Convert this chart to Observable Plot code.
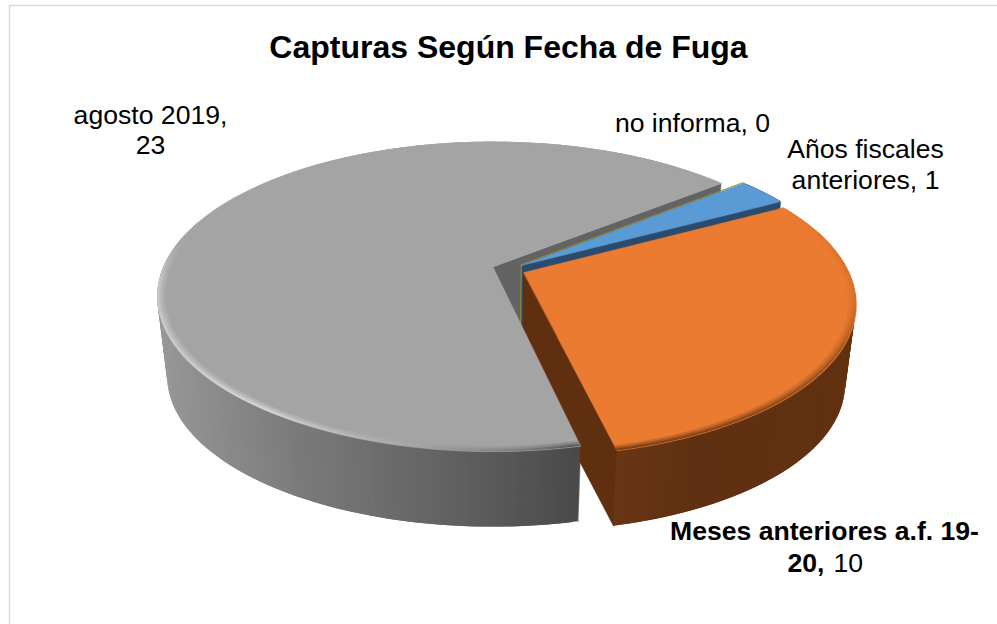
<!DOCTYPE html>
<html>
<head>
<meta charset="utf-8">
<script src="https://cdn.jsdelivr.net/npm/d3@7"></script>
<script src="https://cdn.jsdelivr.net/npm/@observablehq/plot@0.6"></script>
<style>
html,body{margin:0;padding:0;background:#fff}
svg{display:block}
</style>
</head>
<body>
<div id="chart"></div>
<script>
// ---- data ----
const categories = ["agosto 2019", "no informa", "Años fiscales anteriores", "Meses anteriores a.f. 19-20"];
const capturas = [23, 0, 1, 10];
const topColors = ["#a4a4a4", "#a08c1c", "#5b9bd5", "#ea7b30"];
const faceColors = ["#636363", "#a08c1c", "#2a4b6e", "#5f2f10"];
const radiusFactor = [1, 0.985, 0.985, 0.982];
const titleText = "Capturas Según Fecha de Fuga";

// ---- 3D pie geometry (perspective view of a tilted disc) ----
const rad = Math.PI / 180;
const x0 = 492.5, y0 = 266.5, A = 149, B = 329, K = -0.193;
const THICK = 81, SHRINK = 0.97, EXPLODE = 0.05;
const START = 77.5 * rad;

const slices = d3.pie().sort(null).startAngle(START).endAngle(START + 2 * Math.PI)(capturas)
  .map((s, i) => ({...s, i, mid: (s.startAngle + s.endAngle) / 2}));

const base = slices[0];
const cX = -EXPLODE * Math.cos(base.mid), cY = -EXPLODE * Math.sin(base.mid);

function proj(X, Y) {
  const d = 1 + K * Y;
  return [x0 + B * X / d, y0 + A * Y / d];
}
function surf(s, r, t) {
  const R = r * radiusFactor[s.i];
  return proj(cX + EXPLODE * Math.cos(s.mid) + R * Math.cos(t),
              cY + EXPLODE * Math.sin(s.mid) + R * Math.sin(t));
}
function low([x, y]) {
  return [x0 + (x - x0) * SHRINK, y0 + (y - y0) * SHRINK + THICK];
}
function arcAngles(a, b, stepDeg) {
  const n = Math.max(1, Math.ceil((b - a) / (stepDeg * rad)));
  return d3.range(n + 1).map(i => a + (b - a) * i / n);
}

const wallGray = d3.scaleLinear().domain([158, 300, 450, 580]).range(["#979797", "#7a7a7a", "#626262", "#4a4a4a"]);
const wallOrange = d3.scaleLinear().domain([617, 700, 860]).range(["#6a3614", "#5f3011", "#62310f"]);
const wallColor = (s, x) => s.i === 0 ? wallGray(x) : s.i === 3 ? wallOrange(x) : faceColors[s.i];

const deg = t => t / rad;
const rimGray = d3.scaleLinear().domain([77.5, 84, 100, 125, 150, 175, 190, 322])
  .range(["#585858", "#7a7a7a", "#a4a4a4", "#d4d4d4", "#c9c9c9", "#c4c4c4", "#a6a6a6", "#a4a4a4"]);
const rimOrange = d3.scaleLinear().domain([-28, 8, 30, 55, 77.5])
  .range(["#ea7b30", "#dc712b", "#a85a22", "#8a4a1c", "#7a3f18"]);

// side strips (outer wall), radial faces, top surfaces and bevel rings, all derived from the pie
const strips = [], faces = [], tops = [], rings = [];
for (const s of slices) {
  const a = s.startAngle, b = s.endAngle;
  tops.push({s: s.i, id: "t" + s.i, p: surf(s, 0, 0)});
  for (const t of arcAngles(a, b, 1)) tops.push({s: s.i, id: "t" + s.i, p: surf(s, 1, t)});
  for (const t of [a, b]) faces.push({s: s.i, t, end: t === b, pts: [surf(s, 0, 0), surf(s, 1, t)]});
  const as = arcAngles(a, b, 1);
  for (let j = 0; j < as.length - 1; ++j) {
    // each strip overlaps the next one, so no seams show
    const t2 = as[Math.min(j + 2, as.length - 1)];
    const p = surf(s, 1, as[j]), q = surf(s, 1, t2);
    // the far side of the drum faces away from the viewer: no wall there
    if (s.i !== 2 && Math.sin(as[j]) > -0.3) {
      const col = wallColor(s, p[0]);
      const id = `w${s.i}-${j}`;
      strips.push({id, i: s.i, col, a: p, b: low(p)}, {id, i: s.i, col, a: q, b: low(q)});
    }
    if (s.i === 2) {
      const id = `w${s.i}-${j}`;
      strips.push({id, i: s.i, col: faceColors[2], a: p, b: low(p)}, {id, i: s.i, col: faceColors[2], a: q, b: low(q)});
    }
    if (s.value > 1) {
      const d = deg(as[j]);
      const edge = s.i === 0 ? rimGray(d) : rimOrange(d > 180 ? d - 360 : d);
      const mix = d3.interpolateRgb(topColors[s.i], edge);
      [[0.978, 0.986, .3], [0.986, 0.993, .65], [0.993, 1, 1]].forEach(([r1, r2, m], n) => {
        const rid = `r${s.i}-${j}-${n}`, col2 = mix(m);
        rings.push({id: rid, i: s.i, col: col2, a: surf(s, r1, as[j]), b: surf(s, r2, as[j])},
                   {id: rid, i: s.i, col: col2, a: surf(s, r1, t2), b: surf(s, r2, t2)});
      });
    }
  }
}

const facePoly = f => {
  const [ap, rim] = f.pts;
  return [ap, rim, low(rim), low(ap)].map(p => ({id: `${f.s}-${f.t}`, col: faceColors[f.s], p}));
};
const facesFor = (i, endOnly) => faces.filter(f => f.s === i && (!endOnly || f.end)).flatMap(facePoly);
const topFor = i => tops.filter(d => d.s === i).map(d => ({...d, col: topColors[i]}));

const polyMark = rows => Plot.line(rows, {
  x: d => d.p[0], y: d => d.p[1], z: "id", fill: "col", stroke: "col", strokeWidth: 0.5, curve: "linear-closed"
});
const stripMark = rows => Plot.area(rows, {
  x1: d => d.a[0], y1: d => d.a[1], x2: d => d.b[0], y2: d => d.b[1],
  z: "id", fill: "col"
});

// ---- text ----
const font = "'Liberation Sans', Arial, sans-serif";
const labels = [
  {t: "agosto 2019,", x: 150, y: 115},
  {t: "23", x: 150, y: 145},
  {t: "no informa, 0", x: 692, y: 123},
  {t: "Años fiscales", x: 865, y: 149},
  {t: "anteriores, 1", x: 865, y: 180}
];

const zeroLine = slices.filter(s => s.value === 0).flatMap(s => {
  const ap = surf(s, 0, 0), rim = surf(s, 1, s.startAngle);
  return [{p: ap, id: "z1"}, {p: rim, id: "z1"}, {p: ap, id: "z2"}, {p: low(ap), id: "z2"}];
});

const chart = Plot.plot({
  width: 997, height: 624, margin: 0,
  x: {domain: [0, 997], range: [0, 997], axis: null},
  y: {domain: [0, 624], range: [0, 624], axis: null},
  style: {background: "#fff"},
  marks: [
    Plot.ruleX([9], {y1: 5, y2: 624, stroke: "#d9d9d9", strokeWidth: 1.5}),
    Plot.ruleY([5], {x1: 9, x2: 997, stroke: "#d9d9d9", strokeWidth: 1.5}),
    // back faces
    polyMark(facesFor(0)),
    polyMark(facesFor(2, true)),
    stripMark(strips.filter(d => d.i === 2)),
    Plot.line(zeroLine, {x: d => d.p[0], y: d => d.p[1], z: "id", stroke: "#a08c1c", strokeWidth: 1}),
    polyMark(facesFor(3, true)),
    // gray slice
    stripMark(strips.filter(d => d.i === 0)),
    polyMark(topFor(0)),
    stripMark(rings.filter(d => d.i === 0)),
    // blue slice
    polyMark(topFor(2)),
    // orange slice
    stripMark(strips.filter(d => d.i === 3)),
    polyMark(topFor(3)),
    stripMark(rings.filter(d => d.i === 3)),
    // text
    Plot.text([titleText], {x: 508, y: 47, text: d => d, fontFamily: font, fontWeight: "bold", fontSize: 32, fill: "#000"}),
    Plot.text(labels, {x: "x", y: "y", text: "t", fontFamily: font, fontSize: 26.6, fill: "#000"}),
    Plot.text(["Meses anteriores a.f. 19-"], {x: 824, y: 531, text: d => d, fontFamily: font, fontWeight: "bold", fontSize: 26.6, fill: "#000"}),
    Plot.text(["20,"], {x: 824, y: 563, text: d => d, textAnchor: "end", fontFamily: font, fontWeight: "bold", fontSize: 26.6, fill: "#000"}),
    Plot.text(["10"], {x: 833, y: 563, text: d => d, textAnchor: "start", fontFamily: font, fontSize: 26.6, fill: "#000"})
  ]
});
document.getElementById("chart").append(chart);
</script>
</body>
</html>
